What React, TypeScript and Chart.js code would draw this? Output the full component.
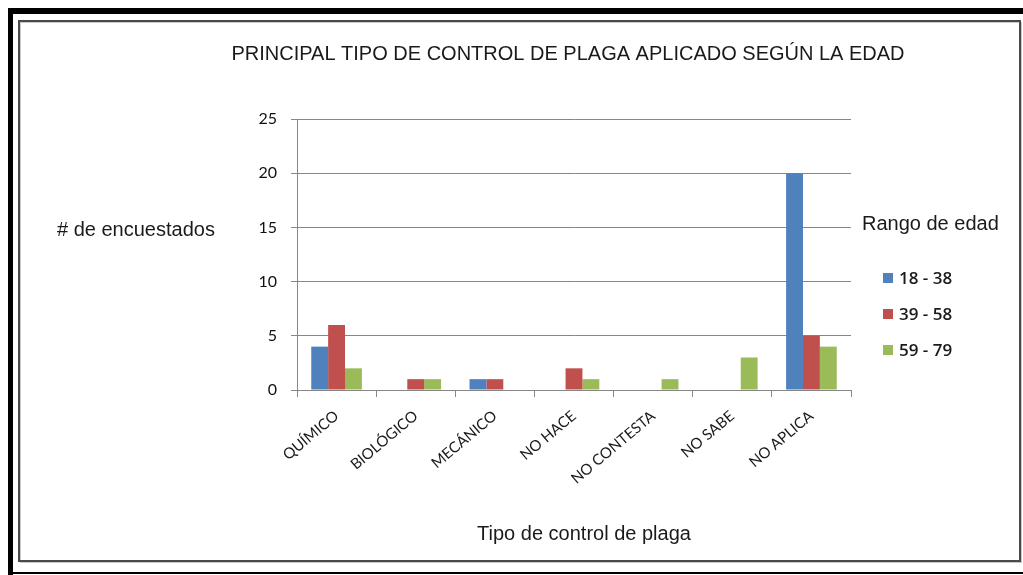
import React, { useEffect, useRef } from "react";
import { Chart, registerables } from "chart.js";

Chart.register(...registerables);

const categories = ["QUÍMICO", "BIOLÓGICO", "MECÁNICO", "NO HACE", "NO CONTESTA", "NO SABE", "NO APLICA"];
const seriesNames = ["18 - 38", "39 - 58", "59 - 79"];
const values1838 = [4, 0, 1, 0, 0, 0, 20];
const values3958 = [6, 1, 1, 2, 0, 0, 5];
const values5979 = [2, 1, 0, 1, 1, 3, 4];
const seriesColors = ["#4F81BD", "#C0504D", "#9BBB59"];
const yTicks = [0, 5, 10, 15, 20, 25];

const chartTitle = "PRINCIPAL TIPO DE CONTROL DE PLAGA APLICADO SEGÚN LA EDAD";
const yTitle = "# de encuestados";
const xTitle = "Tipo de control de plaga";
const legendTitle = "Rango de edad";

const W = 1023;
const H = 575;

const framePlugin = {
  id: "frame",
  beforeDraw(chart: any) {
    const ctx = chart.ctx;
    ctx.save();
    ctx.fillStyle = "#ffffff";
    ctx.fillRect(0, 0, W, H);
    // outer black frame
    ctx.fillStyle = "#000000";
    ctx.fillRect(8, 8, W - 8, 6);
    ctx.fillRect(8, 8, 5, H - 8);
    ctx.fillRect(8, 572, W - 8, 2);
    // inner frame
    ctx.strokeStyle = "#c8c8c8";
    ctx.lineWidth = 1;
    ctx.strokeRect(20.5, 22.5, 1001, 540);
    ctx.strokeStyle = "#4a4a4a";
    ctx.lineWidth = 2;
    ctx.strokeRect(19, 21, 1001, 540);
    ctx.restore();
  },
  afterDraw(chart: any) {
    const ctx = chart.ctx;
    ctx.save();
    ctx.fillStyle = "#1a1a1a";
    ctx.textBaseline = "middle";
    ctx.font = "20px 'Liberation Sans', Arial, sans-serif";
    ctx.textAlign = "center";
    ctx.fillText(chartTitle, 568, 54);
    ctx.textAlign = "left";
    ctx.fillText(yTitle, 57, 230);
    ctx.fillText(legendTitle, 862, 224);
    ctx.textAlign = "center";
    ctx.fillText(xTitle, 584, 534);
    // legend
    ctx.font = "600 17px 'Open Sans', Lato, sans-serif";
    ctx.textAlign = "left";
    seriesNames.forEach((name, i) => {
      const y = 278 + i * 36;
      ctx.fillStyle = seriesColors[i];
      ctx.fillRect(883, y - 5, 10, 10);
      ctx.fillStyle = "#1a1a1a";
      ctx.fillText(name, 899, y + 1);
    });
    ctx.restore();
  },
};

export default function App() {
  const ref = useRef<HTMLCanvasElement | null>(null);
  useEffect(() => {
    if (!ref.current) return;
    const chart = new Chart(ref.current, {
      type: "bar",
      data: {
        labels: categories,
        datasets: [values1838, values3958, values5979].map((d, i) => ({
          label: seriesNames[i],
          data: d,
          backgroundColor: seriesColors[i],
          borderWidth: 0,
          barPercentage: 1,
          categoryPercentage: 0.64,
        })),
      },
      options: {
        responsive: false,
        animation: false,
        devicePixelRatio: 1,
        layout: { padding: { left: 0, top: 119, right: W - 851, bottom: 0 } },
        plugins: {
          legend: { display: false },
          title: { display: false },
          tooltip: { enabled: false },
        },
        scales: {
          x: {
            afterFit(scale: any) {
              scale.height = H - 390;
            },
            grid: {
              display: true,
              drawOnChartArea: false,
              drawTicks: true,
              tickLength: 7,
              color: "#868686",
              offset: true,
            },
            border: { display: true, color: "#868686", width: 1 },
            ticks: {
              autoSkip: false,
              minRotation: 40,
              maxRotation: 40,
              padding: 10,
              color: "#1a1a1a",
              font: { family: "Lato, 'Open Sans', sans-serif", size: 15 },
            },
          },
          y: {
            min: 0,
            max: 25,
            afterFit(scale: any) {
              scale.width = 297;
            },
            afterBuildTicks(scale: any) {
              scale.ticks = yTicks.map((v) => ({ value: v }));
            },
            grid: {
              color: "#868686",
              tickLength: 6,
              drawTicks: true,
            },
            border: { display: true, color: "#868686", width: 1 },
            ticks: {
              padding: 14,
              color: "#111111",
              font: { family: "Lato, 'Open Sans', sans-serif", size: 16 },
            },
          },
        },
      },
      plugins: [framePlugin],
    });
    return () => chart.destroy();
  }, []);
  return (
    <div style={{ position: "absolute", left: 0, top: 0, width: W, height: H }}>
      <canvas ref={ref} width={W} height={H} style={{ display: "block", width: W, height: H }} />
    </div>
  );
}
